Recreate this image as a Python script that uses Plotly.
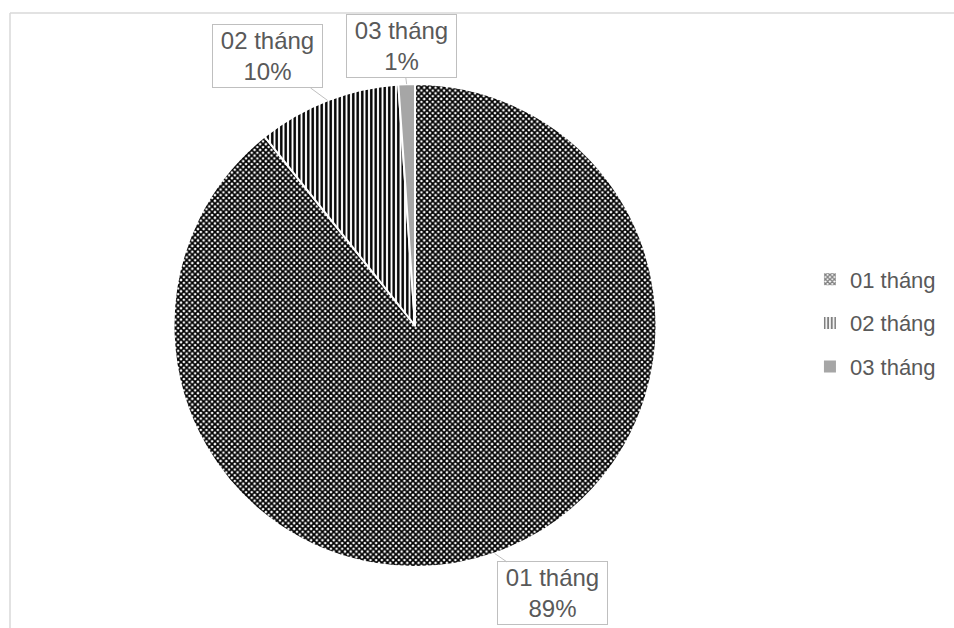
import math
import plotly.graph_objects as go

# ---- data ----
labels = ["01 tháng", "02 tháng", "03 tháng"]
values = [89.3, 9.6, 1.1]

# ---- style ----
W, H = 954, 628
FONT = "Liberation Sans, Arial, sans-serif"
TXT = "#595959"
patterns = [
    dict(shape="x", fgcolor="#000000", bgcolor="#ffffff", size=4, solidity=0.68),
    dict(shape="|", fgcolor="#000000", bgcolor="#ffffff", size=4.5, solidity=0.55),
    dict(shape="", fgcolor="#a6a6a6", bgcolor="#a6a6a6", size=6, solidity=0.3),
]
colors = ["#000000", "#000000", "#a6a6a6"]

# pie geometry (pixels)
px0, px1, py0, py1 = 173, 657, 84, 567
cx, cy = (px0 + px1) / 2, (py0 + py1) / 2
r = min(px1 - px0, py1 - py0) / 2

fig = go.Figure(go.Pie(
    labels=labels, values=values, sort=False, direction="clockwise", rotation=0,
    textinfo="none", hoverinfo="label+percent", showlegend=False,
    marker=dict(colors=colors, line=dict(color="white", width=2),
                pattern=dict(shape=[p["shape"] for p in patterns],
                             fgcolor=[p["fgcolor"] for p in patterns],
                             bgcolor=[p["bgcolor"] for p in patterns],
                             size=[p["size"] for p in patterns],
                             solidity=[p["solidity"] for p in patterns])),
    domain=dict(x=[px0 / W, px1 / W], y=[1 - py1 / H, 1 - py0 / H]),
))

# legend entries (empty bar traces so the entries can be spaced like the original)
for lab, col, p in zip(labels, colors, patterns):
    fig.add_trace(go.Bar(
        x=[None], y=[None], name=lab, legendgroup=lab, showlegend=True,
        marker=dict(color=col, line=dict(width=0),
                    pattern=dict(shape=p["shape"], fgcolor=p["fgcolor"], bgcolor=p["bgcolor"],
                                 size=p["size"], solidity=p["solidity"])),
    ))

# callout label box offsets (pixel offset of box centre from slice edge point)
offsets = [(58, 40), (-60, -44), (-5, -38)]
total = sum(values)
cum = 0
for lab, v, (ax, ay) in zip(labels, values, offsets):
    mid = (cum + v / 2) / total * 2 * math.pi
    cum += v
    tx = cx + r * math.sin(mid)
    ty = cy - r * math.cos(mid)
    fig.add_annotation(
        x=tx / W, y=1 - ty / H, xref="paper", yref="paper",
        text=f"{lab}<br>{round(v / total * 100)}%",
        showarrow=True, arrowhead=0, arrowwidth=1, arrowcolor="#bfbfbf",
        ax=ax, ay=ay, bordercolor="#bfbfbf", borderwidth=1, borderpad=2,
        bgcolor="white", width=105, height=58,
        font=dict(family=FONT, size=24, color=TXT),
    )

# chart area border (top and left visible)
fig.add_shape(type="line", xref="paper", yref="paper",
              x0=10 / W, x1=1.05, y0=1 - 13 / H, y1=1 - 13 / H,
              line=dict(color="#d9d9d9", width=1.5))
fig.add_shape(type="line", xref="paper", yref="paper",
              x0=10 / W, x1=10 / W, y0=1 - 13 / H, y1=-0.05,
              line=dict(color="#d9d9d9", width=1.5))

fig.update_layout(
    width=W, height=H, margin=dict(l=0, r=0, t=0, b=0),
    paper_bgcolor="white", plot_bgcolor="white",
    font=dict(family=FONT, color=TXT),
    xaxis=dict(visible=False, domain=[0.999, 1]),
    yaxis=dict(visible=False, domain=[0.999, 1]),
    legend=dict(x=0.849, y=1 - 323 / H, xanchor="left", yanchor="middle",
                traceorder="grouped", tracegroupgap=12,
                font=dict(family=FONT, size=22, color=TXT),
                bgcolor="rgba(0,0,0,0)"),
)

fig.write_html("out.html")
